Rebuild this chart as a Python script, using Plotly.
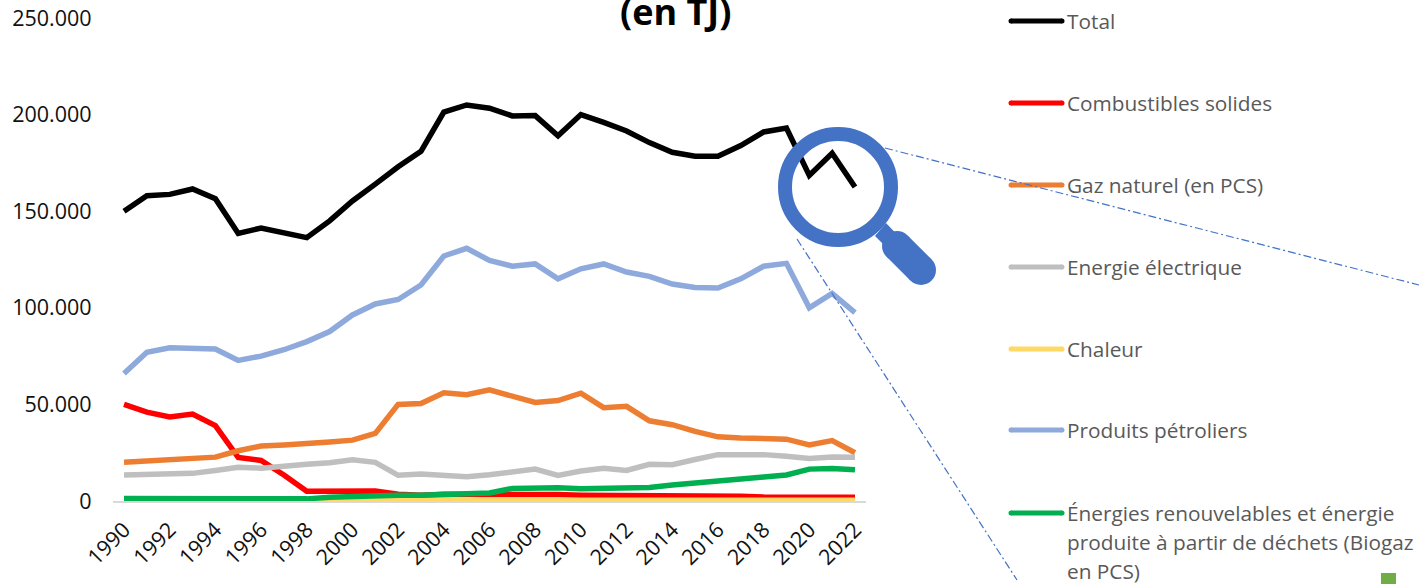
import plotly.graph_objects as go

W, H = 1419, 584
years = list(range(1990, 2023))
total = [150000,158000,158700,161500,156500,138500,141300,139000,136300,145000,155300,164000,173000,181000,201300,205000,203300,199300,199500,189000,200000,196000,191500,185500,180500,178500,178500,184000,191000,193000,168500,180000,162500]
solides = [50000,46000,43500,45000,39000,22500,21000,13500,5000,5000,4800,5200,3500,3000,3500,3500,4000,3600,3600,3300,3000,3000,2800,2700,2600,2500,2600,2400,2100,2200,2100,2000,2000]
gaz = [20000,20800,21600,22500,22700,26000,28500,29000,29500,30500,31500,35000,50000,50500,56000,55000,57500,54000,51000,52000,55800,48300,49000,41500,39500,36000,33200,32600,32000,32000,29000,31300,25000]
electricite = [13500,13800,14000,14300,15800,17500,17000,18200,19000,19800,21300,20000,13300,14000,13000,12600,13600,15000,16500,13200,15500,17000,15800,19000,18800,21500,24000,24000,24000,23200,22000,22800,22600]
chaleur = [300,300,300,300,300,300,300,300,300,300,400,400,400,400,400,400,400,400,400,400,400,400,400,400,400,400,400,400,400,400,400,400,400]
petrole = [66000,77000,79300,79000,78700,72800,75000,78300,82500,87700,96300,102000,104300,111800,126800,130800,124500,121500,122700,115000,120200,122700,118500,116300,112300,110500,110200,115000,121500,123000,100000,107500,97500]
renouvelable = [1300,1300,1300,1300,1100,1100,900,1000,1100,2000,2500,2800,3000,3000,3200,3800,4200,6500,6800,6800,6400,6400,6600,7000,8300,9200,9800,11400,12400,13500,16500,16800,16200]

series = [
    ("Total", total, "#000000"),
    ("Combustibles solides", solides, "#FF0000"),
    ("Gaz naturel (en PCS)", gaz, "#ED7D31"),
    ("Energie électrique", electricite, "#BFBFBF"),
    ("Chaleur", chaleur, "#FFD966"),
    ("Produits pétroliers", petrole, "#8EA9DB"),
    ("Énergies renouvelables et énergie<br>produite à partir de déchets (Biogaz<br>en PCS)", renouvelable, "#00B050"),
]
legend_y = [21, 103, 185, 267, 349, 430, 513]
FONT = "Open Sans"
TICK = "#111111"

def px(x): return x / W
def py(y): return 1 - y / H

fig = go.Figure()
for name, vals, col in series:
    fig.add_trace(go.Scatter(x=years, y=vals, mode="lines", name=name.replace("<br>", " "),
                             line=dict(color=col, width=5.5), cliponaxis=False))

shapes, annos = [], []
for (name, vals, col), ly in zip(series, legend_y):
    shapes.append(dict(type="line", xref="paper", yref="paper", x0=px(1011), x1=px(1062),
                       y0=py(ly), y1=py(ly), line=dict(color=col, width=5)))
    for cx in (1011, 1062):
        shapes.append(dict(type="circle", xref="paper", yref="paper", x0=px(cx-2.5), x1=px(cx+2.5),
                           y0=py(ly-2.5), y1=py(ly+2.5), fillcolor=col, line=dict(width=0)))
    for i, part in enumerate(name.split("<br>")):
        annos.append(dict(text=part, xref="paper", yref="paper", x=px(1066), y=py(ly + 29*i),
                          xanchor="left", yanchor="middle", align="left", showarrow=False,
                          borderpad=0, font=dict(family=FONT, size=20.8, color="#595959")))

BLUE = "#4472C4"
shapes += [
    dict(type="line", xref="paper", yref="paper", x0=px(885), y0=py(148), x1=px(1419), y1=py(285),
         line=dict(color=BLUE, width=1.2, dash="8px,3px,2px,3px")),
    dict(type="line", xref="paper", yref="paper", x0=px(797), y0=py(239), x1=px(1017), y1=py(580),
         line=dict(color=BLUE, width=1.2, dash="8px,3px,2px,3px")),
    dict(type="circle", xref="paper", yref="paper", x0=px(785), x1=px(891), y0=py(134), y1=py(240),
         line=dict(color=BLUE, width=14), fillcolor="rgba(0,0,0,0)"),
    dict(type="path", xref="paper", yref="paper", fillcolor=BLUE, line=dict(width=0),
         path=f"M {px(886)} {py(223)} L {px(875)} {py(236)} L {px(895)} {py(256)} L {px(906)} {py(244)} Z"),
    dict(type="path", xref="paper", yref="paper", fillcolor=BLUE, line=dict(width=0),
         path=f"M {px(907.6)} {py(235.4)} L {px(886.4)} {py(256.6)} L {px(910.4)} {py(280.6)} L {px(931.6)} {py(259.4)} Z"),
    dict(type="circle", xref="paper", yref="paper", fillcolor=BLUE, line=dict(width=0),
         x0=px(882), x1=px(912), y0=py(231), y1=py(261)),
    dict(type="circle", xref="paper", yref="paper", fillcolor=BLUE, line=dict(width=0),
         x0=px(906), x1=px(936), y0=py(255), y1=py(285)),
    dict(type="rect", xref="paper", yref="paper", fillcolor="#70AD47", line=dict(width=0),
         x0=px(1381), x1=px(1396), y0=py(573), y1=py(584)),
]
annos.append(dict(text="<b>(en TJ)</b>", xref="paper", yref="paper", x=px(675), y=py(11),
                  xanchor="center", yanchor="middle", showarrow=False,
                  font=dict(family=FONT, size=36, color="#000000")))

fig.update_layout(
    width=W, height=H, margin=dict(l=0, r=0, t=0, b=0, autoexpand=False), autosize=False,
    paper_bgcolor="white", plot_bgcolor="white", showlegend=False,
    separators=",.", shapes=shapes, annotations=annos,
    font=dict(family=FONT, size=21.5, color=TICK),
    xaxis=dict(domain=[px(112.6), px(866.4)], range=[1989.5, 2022.5], tickmode="array",
               tickvals=years[::2], tickangle=-45, showgrid=False, zeroline=False, automargin=False,
               showline=True, linecolor="#D9D9D9", linewidth=1.5, ticks="", ticklabelstandoff=6,
               layer="below traces",
               tickfont=dict(family=FONT, size=21.5, color=TICK)),
    yaxis=dict(domain=[py(501), py(18)], range=[0, 250000], tickvals=[0,50000,100000,150000,200000,250000],
               tickformat=",d", showgrid=False, zeroline=False, showline=False, ticks="", automargin=False,
               ticklabelstandoff=20,
               tickfont=dict(family=FONT, size=21.5, color=TICK)),
)
fig.write_html("out.html", config={"displayModeBar": False},
               post_script="document.body.style.margin='0';document.body.style.overflow='hidden';")
